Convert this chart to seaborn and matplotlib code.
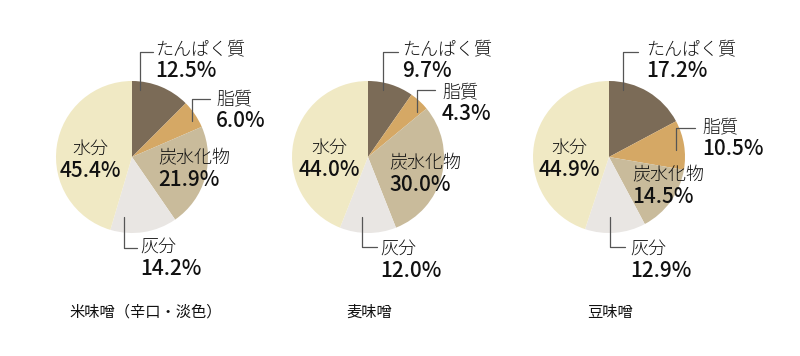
import numpy as np
import matplotlib.pyplot as plt
import seaborn as sns

# 味噌の成分（%）
categories = ['たんぱく質', '脂質', '炭水化物', '灰分', '水分']
kome = [12.5, 6.0, 21.9, 14.2, 45.4]
mugi = [9.7, 4.3, 30.0, 12.0, 44.0]
mame = [17.2, 10.5, 14.5, 12.9, 44.9]
titles = ['米味噌（辛口・淡色）', '麦味噌', '豆味噌']
series = [kome, mugi, mame]

colors = ['#7b6b57', '#d5a865', '#c9bb9b', '#e9e6e3', '#f0e9c4']

sns.set_theme(style='white')
plt.rcParams['font.family'] = ['Noto Sans CJK JP', 'DejaVu Sans']

W, H = 800, 356
def Y(y):
    return H - y

# レイアウト（ピクセル座標）: 中心, ラベル位置, 引き出し線
centers = [(132, 157), (368, 157), (609, 157)]
radius = 76
title_pos = [(69, 312), (346, 312), (587, 312)]
layouts = [
    {'たんぱく質': ((155, 49), (140, 90, 52, 153)),
     '脂質': ((216, 99), (192, 121, 99, 210)),
     '炭水化物': ((158, 158), None),
     '灰分': ((140, 247), (124, 217, 248, 137)),
     '水分': ((90, 149), None)},
    {'たんぱく質': ((402, 49), (383, 90, 52, 398)),
     '脂質': ((442, 92), (417, 112, 90, 435)),
     '炭水化物': ((389, 163), None),
     '灰分': ((380, 249), (362, 217, 247, 377)),
     '水分': ((329, 148), None)},
    {'たんぱく質': ((646, 49), (623, 90, 52, 638)),
     '脂質': ((702, 127), (676, 150, 128, 695)),
     '炭水化物': ((632, 175), None),
     '灰分': ((630, 249), (610, 217, 247, 625)),
     '水分': ((569, 148), None)},
]

fig = plt.figure(figsize=(8, 3.56), dpi=100)
ax = fig.add_axes([0, 0, 1, 1])

for vals, (cx, cy), lay, title, (tx, ty) in zip(series, centers, layouts, titles, title_pos):
    ax.pie(vals, colors=colors, startangle=90, counterclock=False,
           center=(cx, Y(cy)), radius=radius,
           wedgeprops=dict(linewidth=0))
    for cat, v in zip(categories, vals):
        (lx, ly), lead = lay[cat]
        ha = 'center' if cat == '水分' else 'left'
        ax.text(lx, Y(ly), cat, fontsize=13, fontweight='light',
                ha=ha, va='center', color='#111111')
        ax.text(lx, Y(ly + 22), f'{v:.1f}%', fontsize=15, fontweight='medium',
                ha=ha, va='center', color='#111111')
        if lead is not None:
            x0, y0, y1, xe = lead
            ax.plot([x0, x0, xe], [Y(y0), Y(y1), Y(y1)], color='#555555', lw=0.9)
    ax.text(tx, Y(ty), title, fontsize=11, fontweight='normal',
            ha='left', va='center', color='#111111')

ax.set_xlim(0, W)
ax.set_ylim(0, H)
ax.set_aspect('equal')
ax.axis('off')

fig.savefig('out.png', dpi=100)
